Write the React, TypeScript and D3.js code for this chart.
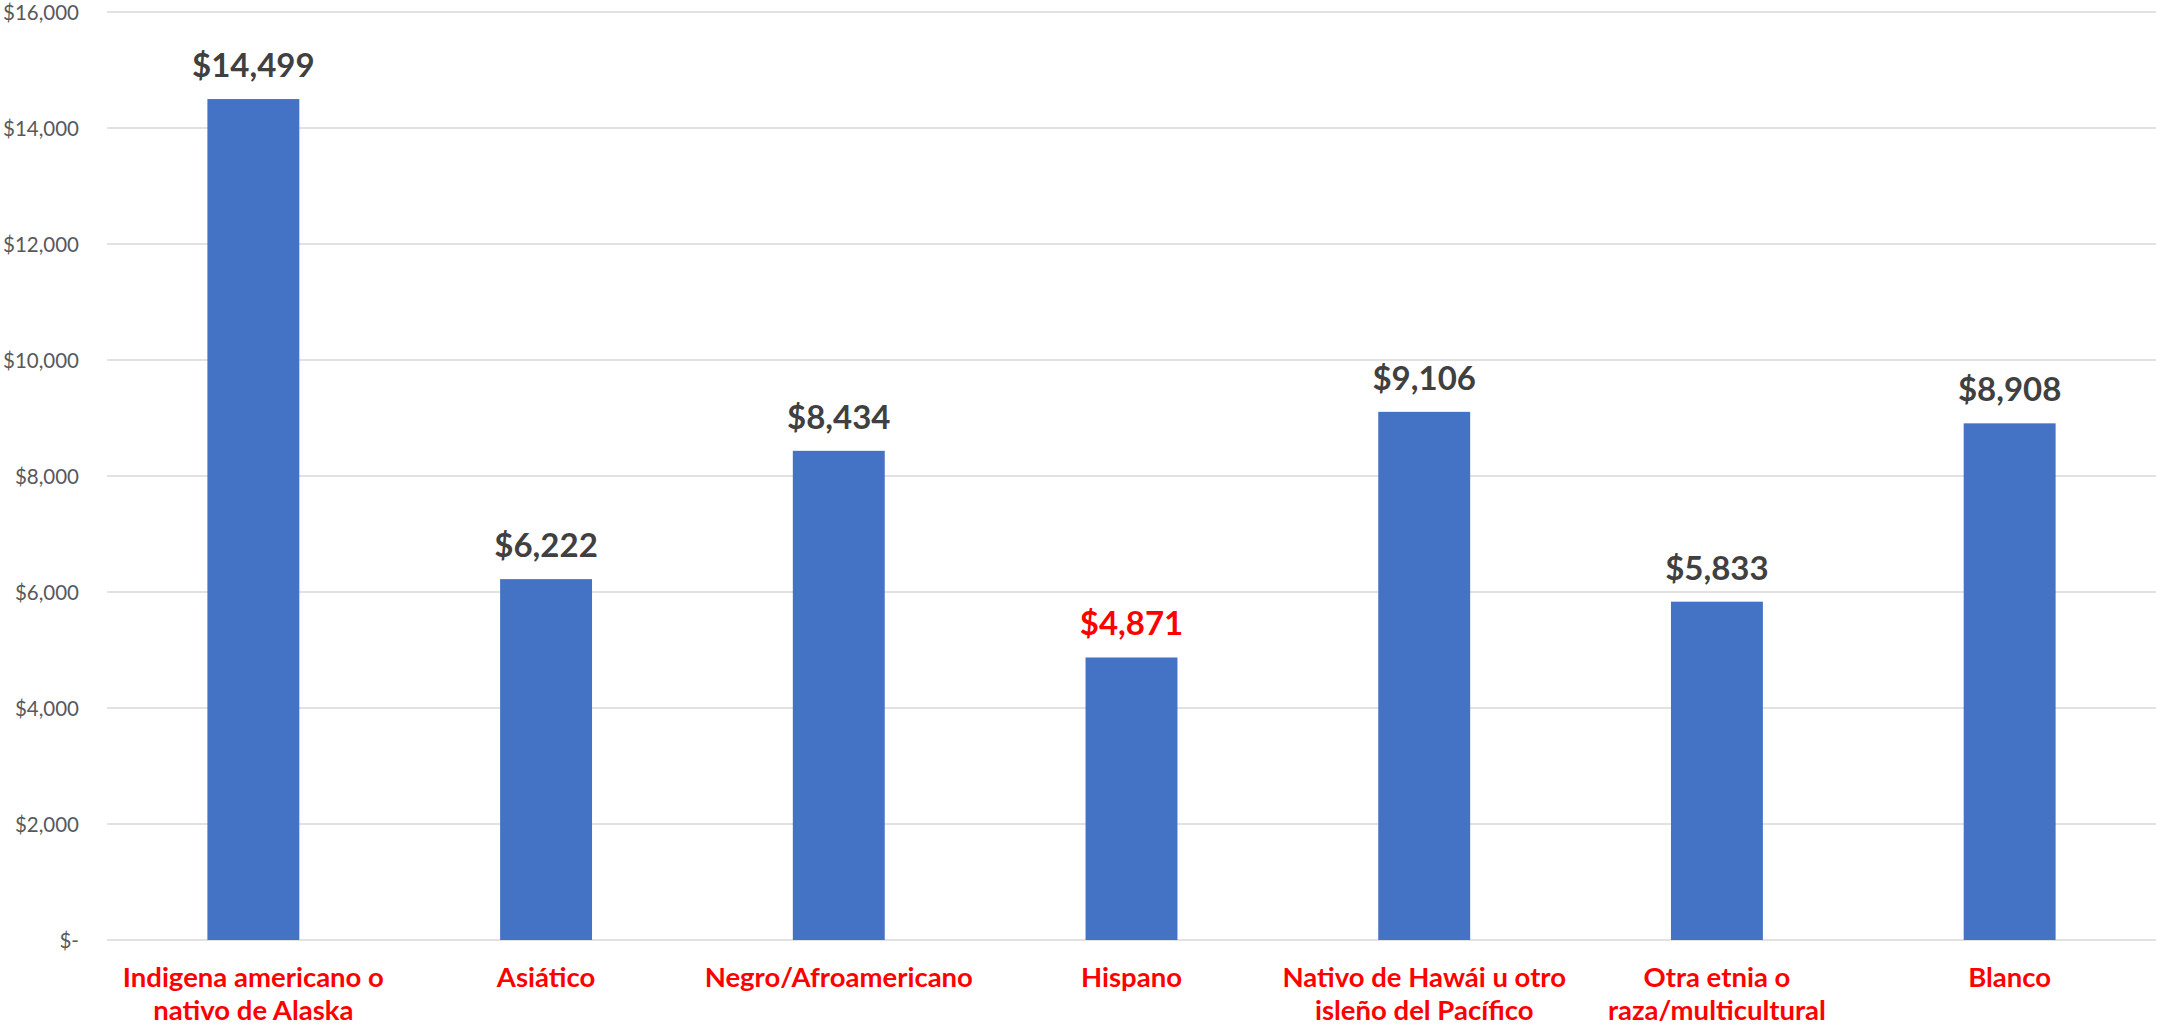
import React from "react";
import * as d3 from "d3";

const categories: string[][] = [
  ["Indigena americano o", "nativo de Alaska"],
  ["Asiático"],
  ["Negro/Afroamericano"],
  ["Hispano"],
  ["Nativo de Hawái u otro", "isleño del Pacífico"],
  ["Otra etnia o", "raza/multicultural"],
  ["Blanco"],
];
const values: number[] = [14499, 6222, 8434, 4871, 9106, 5833, 8908];
const highlighted: boolean[] = [false, false, false, true, false, false, false];
const yTicks: number[] = [0, 2000, 4000, 6000, 8000, 10000, 12000, 14000, 16000];

const W = 2158;
const H = 1025;
const FONT = "Lato, 'Open Sans', sans-serif";

export default function App() {
  const x = d3
    .scaleBand<number>()
    .domain(values.map((_, i) => i))
    .range([107, 2156])
    .paddingInner(0.686)
    .paddingOuter(0.343);
  const y = d3.scaleLinear().domain([0, 16000]).range([940, 12]);
  const fmt = d3.format(",");
  const tickLabel = (v: number) => (v === 0 ? "$-" : "$" + fmt(v));

  return (
    <svg
      width={W}
      height={H}
      style={{ position: "absolute", left: 0, top: 0, background: "#fff" }}
      fontFamily={FONT}
    >
      {yTicks.map((t) => (
        <g key={t}>
          <line x1={107} x2={2156} y1={y(t)} y2={y(t)} stroke="#d9d9d9" strokeWidth={1.5} />
          <text x={79} y={y(t)} dy="0.4em" textAnchor="end" fontSize={20.5} fill="#595959">
            {tickLabel(t)}
          </text>
        </g>
      ))}
      {values.map((v, i) => {
        const bx = x(i)!;
        const cx = bx + x.bandwidth() / 2;
        return (
          <g key={i}>
            <rect x={bx} y={y(v)} width={x.bandwidth()} height={y(0) - y(v)} fill="#4472c4" />
            <text
              x={cx}
              y={y(v) - 22}
              textAnchor="middle"
              fontSize={33}
              fontWeight="bold"
              fill={highlighted[i] ? "#ff0000" : "#404040"}
            >
              {"$" + fmt(v)}
            </text>
            {categories[i].map((line, j) => (
              <text
                key={j}
                x={cx}
                y={987 + j * 33}
                textAnchor="middle"
                fontSize={27.5}
                fontWeight="bold"
                fill="#ff0000"
              >
                {line}
              </text>
            ))}
          </g>
        );
      })}
    </svg>
  );
}
